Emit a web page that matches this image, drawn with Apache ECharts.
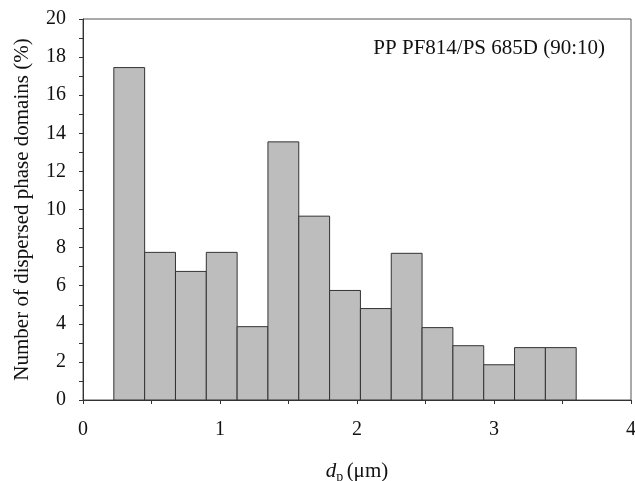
<!DOCTYPE html>
<html>
<head>
<meta charset="utf-8">
<script src="https://cdn.jsdelivr.net/npm/echarts@6/dist/echarts.min.js"></script>
<style>
  html, body { margin: 0; padding: 0; background: #fff; }
  #chart { width: 635px; height: 481px; }
</style>
</head>
<body>
<div id="chart"></div>
<script>
// bin edges (µm) and share of domains in each bin (%)
const binEdges = [0.225, 0.45, 0.675, 0.9, 1.125, 1.35, 1.575, 1.8, 2.025, 2.25, 2.475, 2.7, 2.925, 3.15, 3.375, 3.6];
const binValues = [17.45, 7.75, 6.75, 7.75, 3.85, 13.55, 9.65, 5.75, 4.8, 7.7, 3.8, 2.85, 1.85, 2.75, 2.75];
const xTicks = [0, 1, 2, 3, 4];
const yTicks = [0, 2, 4, 6, 8, 10, 12, 14, 16, 18, 20];
const sampleLabel = 'PP PF814/PS 685D (90:10)';

const serif = '"Liberation Serif", "DejaVu Serif", serif';
const textColor = '#111';

const chart = echarts.init(document.getElementById('chart'));

// [left edge, right edge, height]
const histData = binValues.map((v, i) => [binEdges[i], binEdges[i + 1], v]);

function renderBar(params, api) {
    const topLeft = api.coord([api.value(0), api.value(2)]);
    const bottomRight = api.coord([api.value(1), 0]);
    return {
        type: 'rect',
        shape: {
            x: topLeft[0],
            y: topLeft[1],
            width: bottomRight[0] - topLeft[0],
            height: bottomRight[1] - topLeft[1],
        },
        style: {
            fill: '#bdbdbd',
            stroke: '#333',
            lineWidth: 1,
        },
    };
}

const option = {
    backgroundColor: '#fff',
    animation: false,
    grid: {
        left: 83,
        right: 4,
        top: 19,
        bottom: 81,
        outerBoundsMode: 'none',
        show: true,
        borderColor: '#555',
        borderWidth: 1,
    },
    xAxis: {
        type: 'value',
        min: xTicks[0],
        max: xTicks[xTicks.length - 1],
        interval: 1,
        name: '{i|d}{s|p} {n|(μm)}',
        nameLocation: 'middle',
        nameGap: 58,
        nameTextStyle: {
            rich: {
                i: { fontFamily: serif, fontStyle: 'italic', fontSize: 21, color: textColor },
                s: { fontFamily: serif, fontSize: 14, color: textColor, verticalAlign: 'bottom', padding: [12, 0, 0, 0] },
                n: { fontFamily: serif, fontSize: 21, color: textColor },
            },
        },
        axisLine: { show: true, lineStyle: { color: '#333', width: 1 } },
        axisTick: { show: true, inside: false, length: 4, lineStyle: { color: '#333' } },
        minorTick: { show: true, splitNumber: 2, length: 4, lineStyle: { color: '#333' } },
        axisLabel: { color: textColor, fontFamily: serif, fontSize: 20, margin: 20 },
        splitLine: { show: false },
    },
    yAxis: {
        type: 'value',
        min: yTicks[0],
        max: yTicks[yTicks.length - 1],
        interval: 2,
        name: 'Number of dispersed phase domains (%)',
        nameLocation: 'middle',
        nameGap: 50,
        nameTextStyle: { color: textColor, fontFamily: serif, fontSize: 21 },
        axisLine: { show: true, lineStyle: { color: '#333', width: 1 } },
        axisTick: { show: true, inside: false, length: 4, lineStyle: { color: '#333' } },
        minorTick: { show: true, splitNumber: 2, length: 4, lineStyle: { color: '#333' } },
        axisLabel: { color: textColor, fontFamily: serif, fontSize: 20, margin: 17 },
        splitLine: { show: false },
    },
    graphic: [
        {
            type: 'text',
            right: 30,
            top: 38,
            style: {
                text: sampleLabel,
                fill: textColor,
                font: '21px ' + serif,
            },
        },
    ],
    series: [
        {
            type: 'custom',
            renderItem: renderBar,
            data: histData,
            encode: { x: [0, 1], y: 2 },
            clip: true,
        },
    ],
};

chart.setOption(option);
</script>
</body>
</html>
